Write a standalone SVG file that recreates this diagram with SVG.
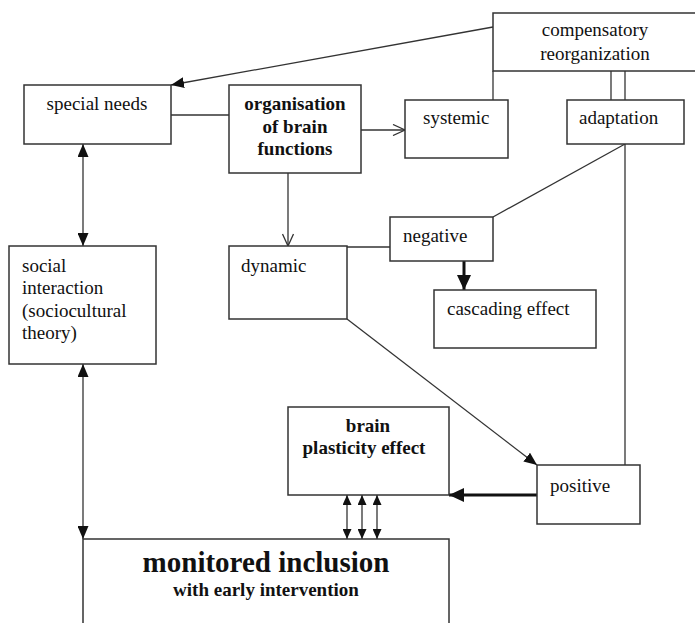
<svg xmlns="http://www.w3.org/2000/svg" width="695" height="623" viewBox="0 0 695 623">
<style>
.box{fill:#fff;stroke:#333;stroke-width:1.5}
.t{font-family:"Liberation Serif","Times New Roman",serif;font-size:19px;fill:#111}
.b{font-weight:bold}
.c{stroke:#333;stroke-width:1.3;fill:none}
.thick{stroke:#111;stroke-width:3;fill:none}
</style>
<defs>
<marker id="fa" markerUnits="userSpaceOnUse" viewBox="0 0 13 11" refX="13" refY="5.5" markerWidth="13" markerHeight="11" orient="auto-start-reverse"><path d="M0,0 L13,5.5 L0,11 Z" fill="#111"/></marker>
<marker id="fb" markerUnits="userSpaceOnUse" viewBox="0 0 15 14" refX="15" refY="7" markerWidth="15" markerHeight="14" orient="auto"><path d="M0,0 L15,7 L0,14 Z" fill="#111"/></marker>
<marker id="oa" markerUnits="userSpaceOnUse" viewBox="0 0 14 12" refX="13" refY="6" markerWidth="14" markerHeight="12" orient="auto"><path d="M1,0.5 L13,6 L1,11.5" fill="none" stroke="#333" stroke-width="1.3"/></marker>
<marker id="sa" markerUnits="userSpaceOnUse" viewBox="0 0 10 9" refX="10" refY="4.5" markerWidth="10" markerHeight="9" orient="auto-start-reverse"><path d="M0,0 L10,4.5 L0,9 Z" fill="#111"/></marker>
</defs>
<g id="connectors">
<line class="c" x1="493" y1="27" x2="171" y2="85" marker-end="url(#fa)"/>
<line class="c" x1="171" y1="115" x2="229" y2="115"/>
<line class="c" x1="361" y1="130" x2="405" y2="130" marker-end="url(#oa)"/>
<line class="c" x1="493" y1="71" x2="493" y2="100"/>
<line class="c" x1="611" y1="71" x2="611" y2="100"/>
<line class="c" x1="625" y1="71" x2="625" y2="100"/>
<line class="c" x1="625" y1="144" x2="493" y2="217"/>
<line class="c" x1="625" y1="144" x2="625" y2="465"/>
<line class="c" x1="288" y1="173" x2="288" y2="246" marker-end="url(#oa)"/>
<line class="c" x1="347" y1="247" x2="390" y2="247"/>
<line class="thick" x1="464" y1="261" x2="464" y2="290" stroke-width="2.5" marker-end="url(#fb)"/>
<line class="c" x1="347" y1="319" x2="537" y2="465" marker-end="url(#fa)"/>
<line class="thick" x1="537" y1="495" x2="449" y2="495" marker-end="url(#fb)"/>
<line class="c" x1="83" y1="144" x2="83" y2="246" marker-start="url(#fa)" marker-end="url(#fa)"/>
<line class="c" x1="83" y1="364" x2="83" y2="539" marker-start="url(#fa)" marker-end="url(#fa)"/>
<line class="c" x1="347" y1="495" x2="347" y2="539" marker-start="url(#sa)" marker-end="url(#sa)"/>
<line class="c" x1="362" y1="495" x2="362" y2="539" marker-start="url(#sa)" marker-end="url(#sa)"/>
<line class="c" x1="377" y1="495" x2="377" y2="539" marker-start="url(#sa)" marker-end="url(#sa)"/>
</g>
<g id="compensatory">
<rect class="box" x="493" y="13" width="206" height="58"/>
<text class="t" x="595" y="36" text-anchor="middle">compensatory</text>
<text class="t" x="595" y="60" text-anchor="middle">reorganization</text>
</g>
<g id="special-needs">
<rect class="box" x="24" y="85" width="147" height="59"/>
<text class="t" x="97" y="110" text-anchor="middle">special needs</text>
</g>
<g id="organisation">
<rect class="box" x="229" y="85" width="132" height="88"/>
<text class="t b" x="295" y="110" text-anchor="middle">organisation</text>
<text class="t b" x="295" y="133" text-anchor="middle">of brain</text>
<text class="t b" x="295" y="155" text-anchor="middle">functions</text>
</g>
<g id="systemic">
<rect class="box" x="405" y="100" width="103" height="58"/>
<text class="t" x="423" y="124">systemic</text>
</g>
<g id="adaptation">
<rect class="box" x="567" y="100" width="117" height="44"/>
<text class="t" x="579" y="124">adaptation</text>
</g>
<g id="negative">
<rect class="box" x="390" y="217" width="103" height="44"/>
<text class="t" x="403" y="242">negative</text>
</g>
<g id="cascading">
<rect class="box" x="434" y="290" width="162" height="58"/>
<text class="t" x="447" y="315">cascading effect</text>
</g>
<g id="dynamic">
<rect class="box" x="229" y="246" width="118" height="73"/>
<text class="t" x="241" y="272">dynamic</text>
</g>
<g id="social">
<rect class="box" x="9" y="246" width="147" height="118"/>
<text class="t" x="22" y="272">social</text>
<text class="t" x="22" y="294">interaction</text>
<text class="t" x="22" y="317">(sociocultural</text>
<text class="t" x="22" y="339">theory)</text>
</g>
<g id="brain-plasticity">
<rect class="box" x="288" y="407" width="161" height="88"/>
<text class="t b" x="368" y="432" text-anchor="middle">brain</text>
<text class="t b" x="364" y="454" text-anchor="middle">plasticity effect</text>
</g>
<g id="positive">
<rect class="box" x="537" y="465" width="103" height="59"/>
<text class="t" x="550" y="492">positive</text>
</g>
<g id="monitored">
<rect class="box" x="83" y="539" width="366" height="100"/>
<text class="t b" x="266" y="572" text-anchor="middle" style="font-size:29px">monitored inclusion</text>
<text class="t b" x="266" y="596" text-anchor="middle">with early intervention</text>
</g>
</svg>
